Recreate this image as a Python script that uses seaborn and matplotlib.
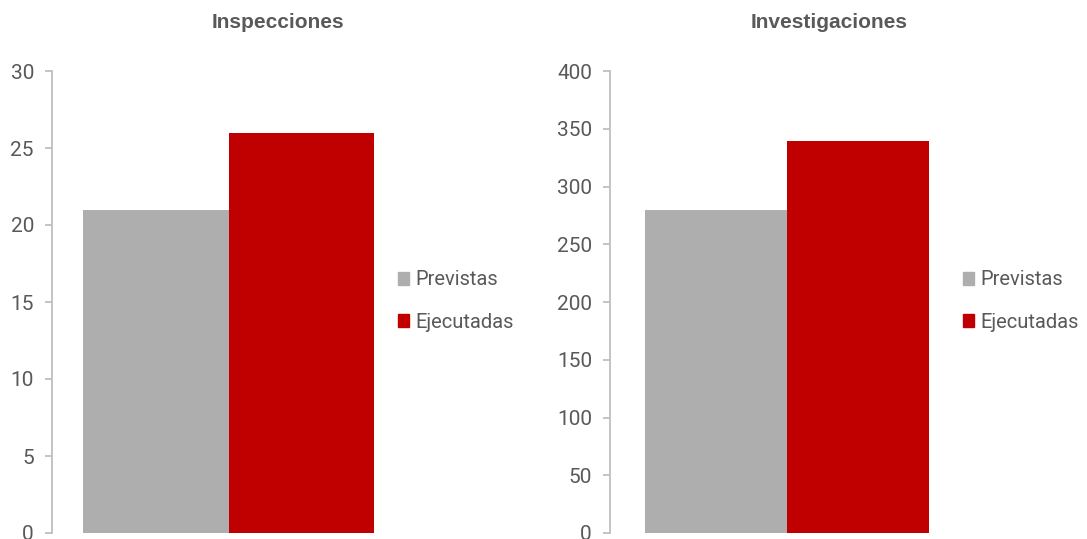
import matplotlib
matplotlib.use("Agg")
import matplotlib.pyplot as plt
import seaborn as sns
import pandas as pd

# Data
panels = ["Inspecciones", "Investigaciones"]
series = ["Previstas", "Ejecutadas"]
inspecciones = [21, 26]
investigaciones = [280, 339]
yticks_insp = [0, 5, 10, 15, 20, 25, 30]
yticks_inv = [0, 50, 100, 150, 200, 250, 300, 350, 400]

colors = {"Previstas": "#AEAEAE", "Ejecutadas": "#C00000"}
text_color = "#595959"
spine_color = "#BFBFBF"

sns.set_theme(style="white")
plt.rcParams["font.family"] = ["Roboto", "DejaVu Sans"]

df = pd.DataFrame({
    "panel": [panels[0]] * 2 + [panels[1]] * 2,
    "serie": series * 2,
    "valor": inspecciones + investigaciones,
    "grupo": [""] * 4,
})

W, H = 1087, 539
fig = plt.figure(figsize=(W / 100, H / 100), dpi=100)
ax_l = fig.add_axes([52 / W, 6 / H, 353 / W, 462 / H])
ax_r = fig.add_axes([610 / W, 6 / H, 354 / W, 462 / H])

configs = [
    (ax_l, panels[0], yticks_insp, 0.824, 398, 278),
    (ax_r, panels[1], yticks_inv, 0.80, 963, 829),
]

for ax, name, ticks, bar_w, leg_x, title_x in configs:
    sub = df[df["panel"] == name]
    sns.barplot(data=sub, x="grupo", y="valor", hue="serie", hue_order=series,
                palette=colors, saturation=1, width=bar_w, linewidth=0,
                ax=ax, legend=True)
    ax.set_xlim(-0.5, 0.5)
    ax.set_ylim(ticks[0], ticks[-1])
    ax.set_yticks(ticks)
    ax.set_xticks([])
    ax.set_xlabel("")
    ax.set_ylabel("")
    for s in ["top", "right", "bottom"]:
        ax.spines[s].set_visible(False)
    ax.spines["left"].set_color(spine_color)
    ax.spines["left"].set_linewidth(1.3)
    ax.tick_params(axis="y", left=True, direction="out", length=5, width=1.3,
                   color=spine_color, labelcolor=text_color, labelsize=15, pad=8)
    fig.text(title_x / W, 1 - 23 / H, name, ha="center", va="center",
             fontsize=15, fontweight="bold", color=text_color,
             family=["Liberation Sans", "DejaVu Sans"])
    ax.legend_.remove()
    handles = [plt.Rectangle((0, 0), 1, 1, color=colors[s]) for s in series]
    fig.legend(handles, series, loc="center left",
               bbox_to_anchor=(leg_x / W, 1 - 301 / H),
               frameon=False, fontsize=14.5, labelcolor=text_color,
               handlelength=0.57, handleheight=0.57, handletextpad=0.3,
               labelspacing=1.15, borderpad=0, borderaxespad=0)

fig.savefig("out.png", dpi=100)
